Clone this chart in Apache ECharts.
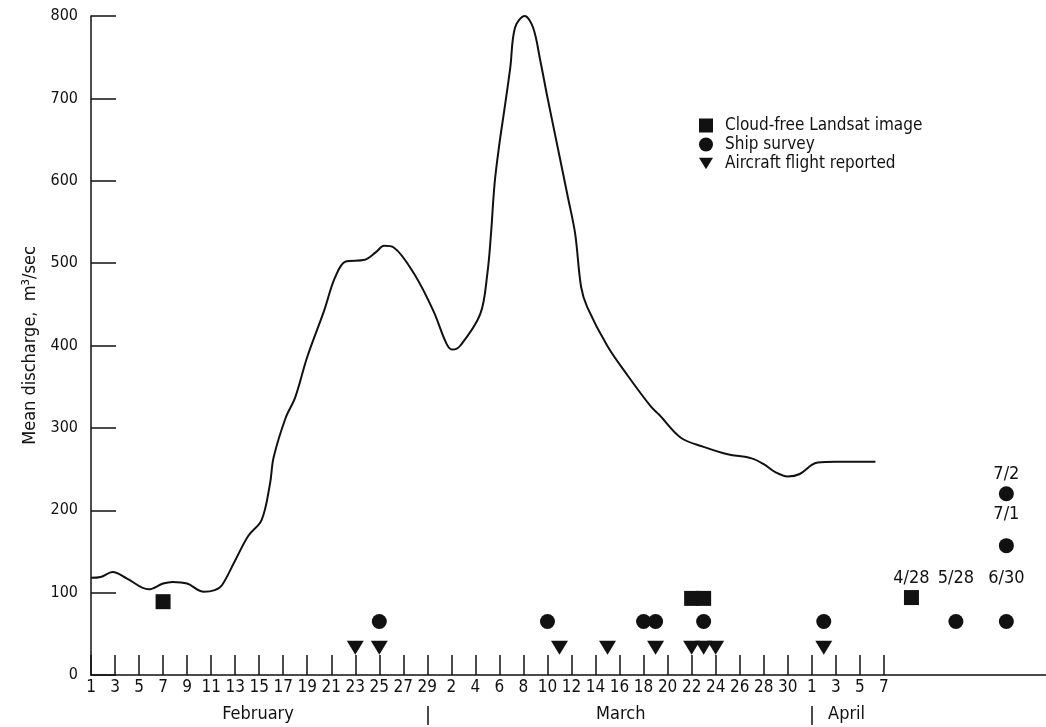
<!DOCTYPE html>
<html>
<head>
<meta charset="utf-8">
<script src="https://cdn.jsdelivr.net/npm/echarts@6/dist/echarts.min.js"></script>
<style>
  html, body { margin: 0; padding: 0; background: #fff; }
  #chart { width: 1046px; height: 727px; }
</style>
</head>
<body>
<div id="chart"></div>
<script>
// Days are counted from 1 February (Feb 1 = 0, Mar 1 = 29, Apr 1 = 60).
// Positions past day 66 hold the late-season observations on a compressed stretch of the axis.

// Mean river discharge, m3/sec
const flowDays = [0, 0.8, 1.8, 3, 4.8, 6, 6.8, 8, 9.4, 10.3, 10.9, 12, 13.1, 14.2, 14.9, 15.2,
  16.2, 17, 18, 19.4, 20.3, 21.2, 22.8, 23.7, 24.4, 25.2, 26.9, 28.5, 29.6, 30.1, 30.75,
  32.4, 33, 33.3, 33.6, 34, 34.4, 34.9, 35.3, 36.1, 36.8, 37.4, 38, 38.9, 39.7, 40.3, 40.8,
  41.3, 43, 44.7, 46.6, 47.3, 49.1, 51, 53, 55, 56, 57, 58, 59, 60, 60.5, 62, 65.3];
const flowValues = [118, 119, 125, 117, 104, 111, 113, 111, 101, 103, 109, 139, 169, 188, 232, 264,
  312, 337, 386, 442, 482, 502, 504, 513, 521, 519, 487, 442, 402, 395, 400,
  438, 488, 536, 597, 645, 685, 737, 786, 800, 786, 746, 701, 637, 580, 536, 471,
  447, 399, 363, 326, 316, 288, 277, 268, 263, 256, 246, 241, 244, 255, 258, 259, 259];

// Cloud-free Landsat images
const landsatDays = [6, 50, 51, 68.3];
const landsatValues = [89, 93, 93, 94];
const landsatNotes = ['', '', '', '4/28'];

// Ship surveys
const shipDays = [24, 38, 46, 47, 51, 61, 72.0, 76.2, 76.2, 76.2];
const shipValues = [65, 65, 65, 65, 65, 65, 65, 65, 157, 220];
const shipNotes = ['', '', '', '', '', '', '5/28', '6/30', '7/1', '7/2'];

// Aircraft flights reported
const aircraftDays = [22, 24, 39, 43, 47, 50, 51, 52, 61];
const aircraftValues = [33, 33, 33, 33, 33, 33, 33, 33, 33];

// Axis ticks and labels
const tickDays = [0, 2, 4, 6, 8, 10, 12, 14, 16, 18, 20, 22, 24, 26, 28,
  30, 32, 34, 36, 38, 40, 42, 44, 46, 48, 50, 52, 54, 56, 58,
  60, 62, 64, 66];
const tickLabels = ['1', '3', '5', '7', '9', '11', '13', '15', '17', '19', '21', '23', '25', '27', '29',
  '2', '4', '6', '8', '10', '12', '14', '16', '18', '20', '22', '24', '26', '28', '30',
  '1', '3', '5', '7'];
const monthNames = ['February', 'March', 'April'];
const monthCenters = [13.9, 44.1, 62.9];
const monthBreaks = [28, 60];

const FONT = "'DejaVu Sans Condensed', 'DejaVu Sans', sans-serif";
const INK = '#111';
const lineStyle = { color: INK, width: 1.5 };

// gap between a marker and its date note
const noteGap = { '4/28': 3, '5/28': 27, '6/30': 27, '7/1': 15, '7/2': 3 };

function points(days, values, notes) {
  return days.map((d, i) => {
    const note = notes ? notes[i] : '';
    return {
      value: [d, values[i]],
      label: note ? { show: true, formatter: note, position: 'top', distance: noteGap[note] } : { show: false }
    };
  });
}

const chart = echarts.init(document.getElementById('chart'), null, { renderer: 'canvas' });

chart.setOption({
  animation: false,
  backgroundColor: '#fff',
  textStyle: { fontFamily: FONT, color: INK },
  grid: { left: 91, right: 0, top: 16, bottom: 52, containLabel: false },
  legend: {
    orient: 'vertical',
    left: 694,
    top: 112,
    itemWidth: 14,
    itemHeight: 14,
    itemGap: 2,
    textStyle: { fontFamily: FONT, fontSize: 17, color: INK, padding: [0, 0, 0, 7] },
    data: [
      { name: 'Cloud-free Landsat image', icon: 'rect' },
      { name: 'Ship survey', icon: 'circle' },
      { name: 'Aircraft flight reported', icon: 'path://M0,0 L16,0 L8,13 Z' }
    ]
  },
  xAxis: [{
    type: 'value',
    min: 0,
    max: 79.5,
    axisLine: { show: true, onZero: false, lineStyle },
    axisTick: { show: true, inside: true, length: 20, customValues: tickDays, lineStyle },
    axisLabel: {
      customValues: tickDays,
      formatter: v => tickLabels[tickDays.indexOf(v)],
      margin: 4, fontSize: 17, color: INK, fontFamily: FONT
    },
    splitLine: { show: false }
  }, {
    type: 'value',
    min: 0,
    max: 79.5,
    position: 'bottom',
    offset: 31,
    axisLine: { show: false, onZero: false },
    axisTick: { show: true, inside: false, length: 19, customValues: monthBreaks, lineStyle },
    axisLabel: {
      customValues: monthCenters,
      formatter: v => monthNames[monthCenters.indexOf(v)],
      margin: -1, fontSize: 18, color: INK, fontFamily: FONT
    },
    splitLine: { show: false }
  }],
  yAxis: {
    type: 'value',
    min: 0,
    max: 800,
    interval: 100,
    axisLine: { show: true, lineStyle },
    axisTick: { show: true, inside: true, length: 25, lineStyle },
    axisLabel: { margin: 13, fontSize: 16, color: INK, fontFamily: FONT },
    splitLine: { show: false },
    name: 'Mean discharge,  m³/sec',
    nameLocation: 'middle',
    nameGap: 52,
    nameTextStyle: { fontSize: 18, color: INK, fontFamily: FONT }
  },
  series: [{
    name: 'Discharge',
    type: 'line',
    data: flowDays.map((d, i) => [d, flowValues[i]]),
    smooth: 0.35,
    showSymbol: false,
    clip: false,
    lineStyle: { color: INK, width: 2 },
    z: 2
  }, {
    name: 'Cloud-free Landsat image',
    type: 'scatter',
    symbol: 'rect',
    symbolSize: 15,
    itemStyle: { color: INK, opacity: 1 },
    label: { fontSize: 18, color: INK, fontFamily: FONT },
    data: points(landsatDays, landsatValues, landsatNotes),
    z: 3
  }, {
    name: 'Ship survey',
    type: 'scatter',
    symbol: 'circle',
    symbolSize: 15,
    itemStyle: { color: INK, opacity: 1 },
    label: { fontSize: 18, color: INK, fontFamily: FONT },
    data: points(shipDays, shipValues, shipNotes),
    z: 3
  }, {
    name: 'Aircraft flight reported',
    type: 'scatter',
    symbol: 'triangle',
    symbolRotate: 180,
    symbolSize: [17, 14],
    itemStyle: { color: INK, opacity: 1 },
    data: points(aircraftDays, aircraftValues, null),
    z: 3
  }]
});
</script>
</body>
</html>
